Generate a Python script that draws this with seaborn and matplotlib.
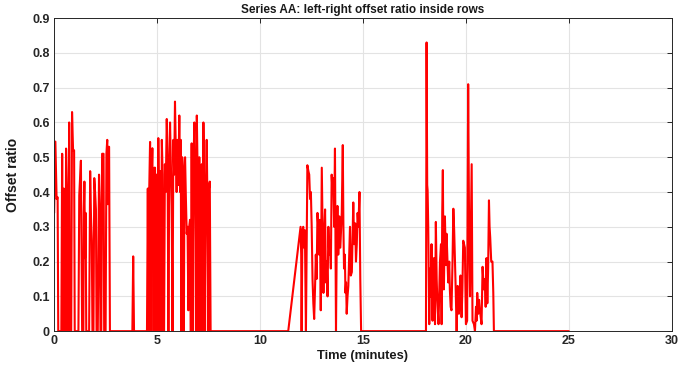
import numpy as np
import pandas as pd
import matplotlib
matplotlib.use("Agg")
import matplotlib.pyplot as plt
import seaborn as sns
from matplotlib.ticker import FuncFormatter

# ---- data (time in minutes, offset ratio) ----
burst1_t = [0.00, 0.06, 0.12, 0.17, 0.20, 0.35, 0.39, 0.43, 0.47, 0.51, 0.55, 0.58, 0.62, 0.65,
            0.70, 0.73, 0.76, 0.83, 0.87, 0.92, 0.97, 1.00, 1.18, 1.22, 1.30, 1.33, 1.36, 1.42,
            1.44, 1.47, 1.50, 1.53, 1.56, 1.70, 1.75, 1.79, 1.83, 1.86, 1.91, 1.95, 1.99, 2.03,
            2.06, 2.12, 2.18, 2.22, 2.25, 2.29, 2.33, 2.40, 2.43, 2.50, 2.54, 2.58, 2.61, 2.64,
            2.67, 2.71]
burst1_v = [0.34, 0.545, 0.38, 0.385, 0.0, 0.0, 0.51, 0.0, 0.41, 0.0, 0.0, 0.525, 0.42, 0.0,
            0.0, 0.60, 0.0, 0.0, 0.63, 0.52, 0.52, 0.0, 0.0, 0.39, 0.49, 0.25, 0.0, 0.0,
            0.34, 0.43, 0.21, 0.34, 0.0, 0.0, 0.46, 0.33, 0.26, 0.0, 0.0, 0.44, 0.40, 0.35,
            0.0, 0.0, 0.45, 0.36, 0.0, 0.0, 0.51, 0.51, 0.0, 0.0, 0.51, 0.55, 0.365, 0.53,
            0.53, 0.0]

spike_t = [3.80, 3.84, 3.88]
spike_v = [0.0, 0.215, 0.0]

burst2_t = [4.48, 4.51, 4.55, 4.58, 4.62, 4.66, 4.69, 4.72, 4.77, 4.80, 4.83, 4.87, 4.90, 4.93,
            4.97, 5.00, 5.03, 5.06, 5.09, 5.12, 5.16, 5.20, 5.23, 5.27, 5.30, 5.34, 5.38, 5.42,
            5.47, 5.51, 5.55, 5.59, 5.63, 5.67, 5.71, 5.75, 5.79, 5.83, 5.87, 5.91, 5.95, 5.99,
            6.03, 6.08, 6.12, 6.15, 6.18, 6.22, 6.26, 6.30, 6.33, 6.36, 6.40, 6.44, 6.48, 6.52,
            6.56, 6.60, 6.64, 6.68, 6.72, 6.76, 6.81, 6.85, 6.89, 6.93, 6.97, 7.01, 7.05, 7.09,
            7.13, 7.17, 7.21, 7.25, 7.29, 7.33, 7.37, 7.41, 7.45, 7.49, 7.52, 7.56, 7.60]
burst2_v = [0.0, 0.0, 0.41, 0.0, 0.41, 0.544, 0.0, 0.40, 0.526, 0.30, 0.0, 0.47, 0.47, 0.0,
            0.45, 0.30, 0.0, 0.555, 0.36, 0.0, 0.46, 0.0, 0.55, 0.45, 0.0, 0.0, 0.48, 0.40,
            0.61, 0.50, 0.0, 0.42, 0.60, 0.48, 0.36, 0.0, 0.55, 0.45, 0.66, 0.52, 0.40, 0.55,
            0.42, 0.62, 0.40, 0.55, 0.0, 0.50, 0.43, 0.0, 0.45, 0.50, 0.38, 0.28, 0.30, 0.06,
            0.30, 0.32, 0.0, 0.54, 0.0, 0.45, 0.60, 0.35, 0.0, 0.62, 0.45, 0.0, 0.50, 0.0,
            0.40, 0.48, 0.0, 0.60, 0.38, 0.0, 0.42, 0.55, 0.35, 0.0, 0.41, 0.43, 0.0]

burst3_t = [11.37, 11.97, 12.00, 12.02, 12.06, 12.10, 12.14, 12.18, 12.23, 12.30, 12.35, 12.39,
            12.43, 12.47, 12.51, 12.55, 12.59, 12.63, 12.67, 12.71, 12.75, 12.79, 12.83, 12.87,
            12.91, 12.95, 13.00, 13.04, 13.08, 13.12, 13.16, 13.20, 13.24, 13.28, 13.32, 13.36,
            13.40, 13.44, 13.48, 13.52, 13.56, 13.60, 13.64, 13.67, 13.69, 13.73, 13.76, 13.80,
            13.85, 13.90, 13.97, 14.02, 14.05, 14.08, 14.12, 14.15, 14.18, 14.21, 14.25, 14.29,
            14.33, 14.37, 14.41, 14.46, 14.50, 14.53, 14.57, 14.62, 14.66, 14.70, 14.74, 14.78,
            14.83, 14.87, 14.91]
burst3_v = [0.0, 0.30, 0.22, 0.0, 0.29, 0.30, 0.24, 0.29, 0.0, 0.477, 0.46, 0.45,
            0.38, 0.40, 0.30, 0.15, 0.08, 0.035, 0.12, 0.22, 0.15, 0.34, 0.30, 0.22,
            0.32, 0.06, 0.47, 0.30, 0.11, 0.28, 0.35, 0.14, 0.20, 0.10, 0.30, 0.22,
            0.26, 0.18, 0.45, 0.40, 0.44, 0.30, 0.525, 0.20, 0.0, 0.28, 0.36, 0.22,
            0.33, 0.24, 0.34, 0.535, 0.30, 0.18, 0.22, 0.11, 0.14, 0.05, 0.10, 0.13,
            0.22, 0.30, 0.16, 0.17, 0.28, 0.37, 0.25, 0.31, 0.20, 0.25, 0.34, 0.30,
            0.40, 0.15, 0.0]

burst4_t = [18.06, 18.09, 18.12, 18.14, 18.17, 18.20, 18.22, 18.26, 18.29, 18.33, 18.36, 18.38,
            18.42, 18.45, 18.48, 18.50, 18.54, 18.58, 18.61, 18.67, 18.71, 18.74, 18.79, 18.82,
            18.85, 18.88, 18.91, 18.93, 18.98, 19.03, 19.06, 19.09, 19.14, 19.19, 19.22, 19.26,
            19.30, 19.35, 19.39, 19.43, 19.50, 19.55, 19.60, 19.66, 19.70, 19.74, 19.79, 19.83,
            19.87, 19.95, 20.00, 20.06, 20.11, 20.16, 20.20, 20.23, 20.28, 20.32, 20.39, 20.44,
            20.49, 20.52, 20.55, 20.60, 20.64, 20.68, 20.72, 20.76, 20.81, 20.87, 20.92, 20.96,
            21.00, 21.04, 21.08, 21.12, 21.15, 21.18, 21.23, 21.29, 21.33, 21.36]
burst4_v = [0.0, 0.83, 0.42, 0.405, 0.30, 0.12, 0.02, 0.18, 0.10, 0.25, 0.08, 0.03,
            0.15, 0.21, 0.06, 0.02, 0.314, 0.15, 0.09, 0.02, 0.12, 0.20, 0.25, 0.02,
            0.34, 0.463, 0.20, 0.12, 0.33, 0.19, 0.28, 0.23, 0.14, 0.20, 0.12, 0.07,
            0.06, 0.20, 0.352, 0.29, 0.13, 0.0, 0.13, 0.05, 0.10, 0.16, 0.04, 0.12,
            0.26, 0.24, 0.02, 0.03, 0.71, 0.25, 0.10, 0.24, 0.48, 0.03, 0.02, 0.0,
            0.07, 0.03, 0.11, 0.05, 0.09, 0.06, 0.04, 0.02, 0.185, 0.12, 0.15, 0.07,
            0.21, 0.08, 0.18, 0.376, 0.30, 0.27, 0.20, 0.20, 0.11, 0.0]

tail_t = [25.0]
tail_v = [0.0]

x_ticks = [0, 5, 10, 15, 20, 25, 30]
y_ticks = [0, 0.1, 0.2, 0.3, 0.4, 0.5, 0.6, 0.7, 0.8, 0.9]

title = "Series AA: left-right offset ratio inside rows"
xlabel = "Time (minutes)"
ylabel = "Offset ratio"

# ---- build frame ----
t_all = burst1_t + spike_t + burst2_t + burst3_t + burst4_t + tail_t
v_all = burst1_v + spike_v + burst2_v + burst3_v + burst4_v + tail_v
df = pd.DataFrame({"time": t_all, "ratio": v_all})

sns.set_style("whitegrid")
plt.rcParams["font.family"] = ["Liberation Sans", "DejaVu Sans"]
plt.rcParams["font.weight"] = "bold"

fig = plt.figure(figsize=(6.94, 3.70), dpi=100)
ax = fig.add_axes([0.078, 0.105, 0.890, 0.846])

sns.lineplot(data=df, x="time", y="ratio", ax=ax, sort=False, estimator=None,
             color="#ff0000", linewidth=1.5)

ax.set_xlim(0, 30)
ax.set_ylim(0, 0.9)
ax.set_xticks(x_ticks)
ax.set_yticks(y_ticks)
ax.yaxis.set_major_formatter(FuncFormatter(lambda v, p: "0" if abs(v) < 1e-9 else f"{v:.1f}"))

ax.grid(True, color="#e3e3e3", linewidth=0.8)
for s in ax.spines.values():
    s.set_visible(True)
    s.set_color("#262626")
    s.set_linewidth(0.7)
ax.tick_params(direction="in", length=3.5, width=0.7, color="#262626",
               top=True, right=True, labelsize=9, pad=3, labelcolor="#262626")
for lab in ax.get_xticklabels() + ax.get_yticklabels():
    lab.set_fontweight("bold")

ax.set_title(title, fontsize=8.5, fontweight="bold", color="#1a1a1a", pad=4)
ax.set_xlabel(xlabel, fontsize=9.3, fontweight="bold", color="#1a1a1a", labelpad=2)
ax.set_ylabel(ylabel, fontsize=10, fontweight="bold", color="#1a1a1a", labelpad=9)

fig.savefig("out.png", dpi=100, facecolor="white")
